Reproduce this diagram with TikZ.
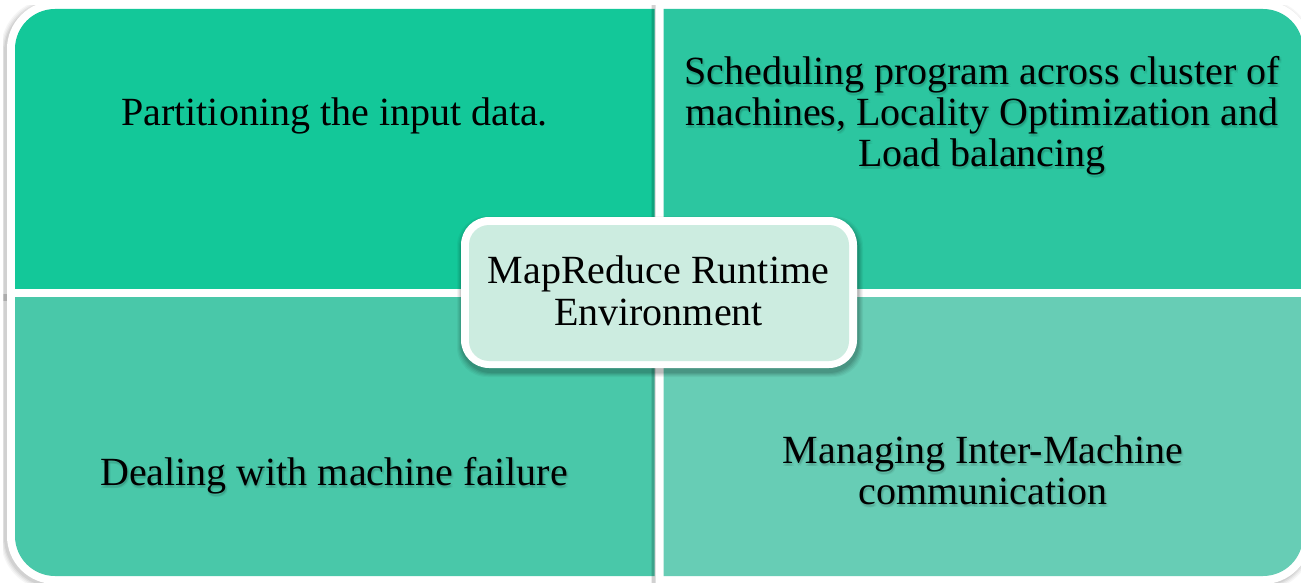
\documentclass[tikz,border=0pt]{standalone}
\usepackage{fontspec}
\setmainfont{Liberation Serif}
\definecolor{qTL}{HTML}{13C899}
\definecolor{qTR}{HTML}{2CC6A0}
\definecolor{qBL}{HTML}{49C8A9}
\definecolor{qBR}{HTML}{67CDB5}
\definecolor{qC}{HTML}{CCECE0}
% #1 x1, #2 y1, #3 x2, #4 y2 of the coloured part, #5 colour
\newcommand\mkquad[5]{%
  \begin{scope}
    \clip (#1-12,#2-3) rectangle (#3+6,#4+12);
    \foreach \e/\o in {4/0.035,3/0.04,2/0.05,1/0.06}{
      \fill[black,opacity=\o,rounded corners=50pt]
        (7-2-\e,1+2-\e) rectangle (1311-2+\e,584+2+\e);}
  \end{scope}
  \begin{scope}
    \clip (#1-8,#2-8) rectangle (#3+8,#4+8);
    \fill[white,rounded corners=48pt] (7,1) rectangle (1311,584);
  \end{scope}
  \begin{scope}
    \clip (#1,#2) rectangle (#3,#4);
    \fill[#5,rounded corners=40pt] (15,9) rectangle (1303,576);
  \end{scope}}
\tikzset{
  txt/.style={font=\fontsize{40}{41}\selectfont, align=center, inner sep=0pt, anchor=north, text=black},
  tshadow/.style={txt, opacity=0.05}
}
\begin{document}
\begin{tikzpicture}[x=1pt,y=-1pt]
\useasboundingbox (0,0) rectangle (1301,583);
\fill[white] (0,0) rectangle (1301,583);

\mkquad{15}{9}{654.5}{288}{qTL}
\mkquad{663.5}{9}{1303}{288}{qTR}
\mkquad{15}{297}{654.5}{576}{qBL}
\mkquad{663.5}{297}{1303}{576}{qBR}

% soft text shadows
\foreach \dx/\dy in {1/2,2/3,0/3,2/1}{
  \node[tshadow] at (982+\dx,55.8+\dy) {Scheduling program across cluster of\\machines, Locality Optimization and\\Load balancing};
  \node[tshadow] at (334+\dx,456.8+\dy) {Dealing with machine failure};
  \node[tshadow] at (983+\dx,435.8+\dy) {Managing Inter-Machine\\communication};
}

\node[txt] (tl) at (334.5,97.8) {Partitioning the input data.};
\node[txt] (tr) at (982,55.8) {Scheduling program across cluster of\\machines, Locality Optimization and\\Load balancing};
\node[txt] (bl) at (334,456.8) {Dealing with machine failure};
\node[txt] (br) at (983,435.8) {Managing Inter-Machine\\communication};

% centre box
\foreach \e/\o in {5/0.04,4/0.05,3/0.06,2/0.07,1/0.08}{
  \fill[black,opacity=\o,rounded corners=30pt] (461+1-\e,217+4-\e) rectangle (857+1+\e,368+4+\e);}
\fill[white,rounded corners=28pt] (461,217) rectangle (857,368);
\fill[qC,rounded corners=20pt] (469,225) rectangle (849,361);
\node[txt,font=\fontsize{40}{42}\selectfont] (c) at (658.5,255.8) {MapReduce Runtime\\Environment};
\end{tikzpicture}
\end{document}
